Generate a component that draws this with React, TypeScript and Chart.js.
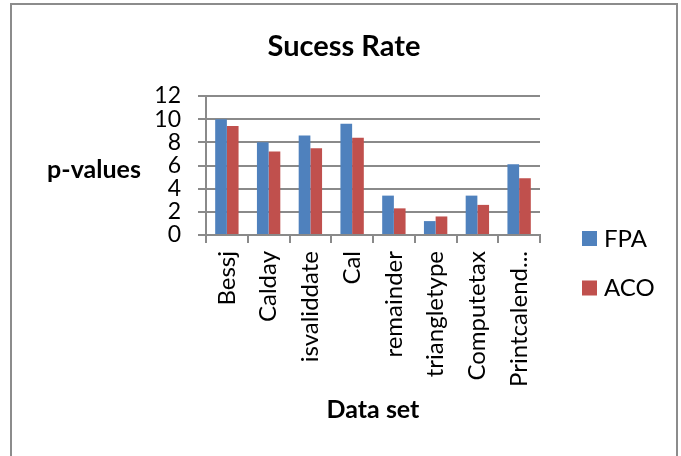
import React, { useEffect, useRef } from "react";
import { Chart, registerables } from "chart.js";

Chart.register(...registerables);

const categories = ["Bessj", "Calday", "isvaliddate", "Cal", "remainder", "triangletype", "Computetax", "Printcalend..."];
const fpaValues = [10.0, 8.0, 8.6, 9.6, 3.4, 1.2, 3.4, 6.1];
const acoValues = [9.4, 7.2, 7.5, 8.4, 2.3, 1.6, 2.6, 4.9];
const seriesLabels = ["FPA", "ACO"];
const seriesColors = ["#4F81BD", "#C0504D"];
const yTicks = [0, 2, 4, 6, 8, 10, 12];
const chartTitle = "Sucess Rate";
const yAxisTitle = "p-values";
const xAxisTitle = "Data set";

const FONT = "Lato, 'Open Sans', sans-serif";
const GRID = "#8a8a8a";

const decorPlugin = {
  id: "decor",
  beforeDraw(chart: any) {
    const { ctx, width, height } = chart;
    ctx.save();
    ctx.fillStyle = "#ffffff";
    ctx.fillRect(0, 0, width, height);
    ctx.strokeStyle = "#8c8c8c";
    ctx.lineWidth = 2;
    ctx.strokeRect(11, 4, 666, height + 20);
    ctx.restore();
  },
  afterDraw(chart: any) {
    const { ctx, chartArea } = chart;
    ctx.save();
    // chart title
    ctx.fillStyle = "#000";
    ctx.font = `bold 29px ${FONT}`;
    ctx.textAlign = "center";
    ctx.textBaseline = "middle";
    ctx.fillText(chartTitle, 344, 47);
    // horizontal y-axis title
    ctx.font = `bold 25px ${FONT}`;
    ctx.fillText(yAxisTitle, 94, (chartArea.top + chartArea.bottom) / 2 + 4);
    // legend
    chart.data.datasets.forEach((ds: any, i: number) => {
      const x = chartArea.right + 42;
      const y = chartArea.top + 135 + i * 49.5;
      ctx.fillStyle = ds.backgroundColor;
      ctx.fillRect(x, y, 15, 15);
      ctx.fillStyle = "#000";
      ctx.font = `24px ${FONT}`;
      ctx.textAlign = "left";
      ctx.textBaseline = "middle";
      ctx.fillText(ds.label, x + 22, y + 8);
    });
    ctx.restore();
  },
};

export default function App() {
  const ref = useRef<HTMLCanvasElement>(null);

  useEffect(() => {
    if (!ref.current) return;
    const chart = new Chart(ref.current, {
      type: "bar",
      data: {
        labels: categories,
        datasets: [
          { label: seriesLabels[0], data: fpaValues, backgroundColor: seriesColors[0], borderWidth: 0 },
          { label: seriesLabels[1], data: acoValues, backgroundColor: seriesColors[1], borderWidth: 0 },
        ],
      },
      options: {
        responsive: false,
        animation: false,
        layout: { padding: { left: 0, right: 141, top: 96, bottom: 0 } },
        datasets: { bar: { categoryPercentage: 0.56, barPercentage: 1.0 } },
        plugins: {
          legend: { display: false },
          tooltip: { enabled: false },
          title: { display: false },
        },
        scales: {
          x: {
            afterFit(scale: any) {
              scale.height = 221;
            },
            grid: {
              display: true,
              drawOnChartArea: false,
              drawTicks: true,
              tickLength: 8,
              offset: true,
              color: GRID,
              lineWidth: 2,
            },
            border: { display: true, color: GRID, width: 2 },
            ticks: {
              color: "#000",
              font: { family: FONT, size: 24 },
              minRotation: 90,
              maxRotation: 90,
              autoSkip: false,
              padding: 8,
            },
            title: {
              display: true,
              text: xAxisTitle,
              color: "#000",
              font: { family: FONT, size: 25, weight: "bold" },
              padding: { top: 0, bottom: 31 },
            },
          },
          y: {
            min: yTicks[0],
            max: yTicks[yTicks.length - 1],
            afterFit(scale: any) {
              scale.width = 206;
            },
            afterBuildTicks(scale: any) {
              scale.ticks = yTicks.map((v) => ({ value: v }));
            },
            grid: {
              color: GRID,
              lineWidth: 2,
              drawTicks: true,
              tickLength: 8,
            },
            border: { display: true, color: GRID, width: 2 },
            ticks: {
              color: "#000",
              font: { family: FONT, size: 23 },
              padding: 17,
              autoSkip: false,
            },
          },
        },
      },
      plugins: [decorPlugin],
    });
    return () => chart.destroy();
  }, []);

  return (
    <canvas
      ref={ref}
      width={681}
      height={456}
      style={{ position: "absolute", left: 0, top: 0, width: 681, height: 456, display: "block" }}
    />
  );
}
